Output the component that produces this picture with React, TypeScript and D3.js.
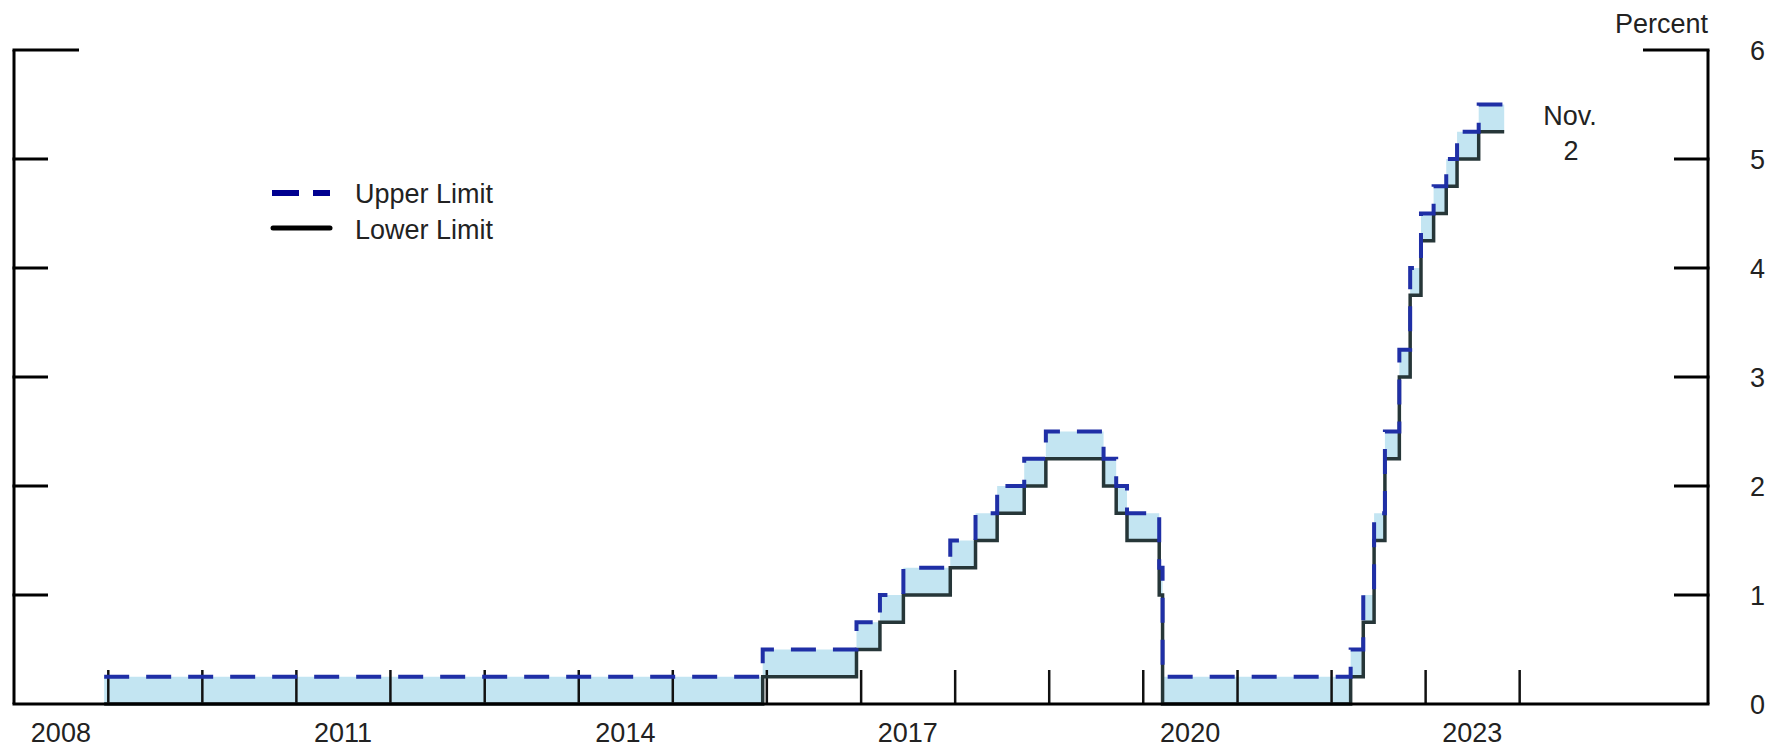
import * as d3 from 'd3';

// Federal funds target range changes (date of change, upper / lower limit in percent)
const changeDates = [
  '2008-12-16', '2015-12-16', '2016-12-14', '2017-03-15', '2017-06-14', '2017-12-13',
  '2018-03-21', '2018-06-13', '2018-09-26', '2018-12-19', '2019-07-31', '2019-09-18',
  '2019-10-30', '2020-03-03', '2020-03-16', '2022-03-16', '2022-05-04', '2022-06-15',
  '2022-07-27', '2022-09-21', '2022-11-02', '2022-12-14', '2023-02-01', '2023-03-22',
  '2023-05-03', '2023-07-26', '2023-11-02',
];
const upperLimit = [
  0.25, 0.5, 0.75, 1.0, 1.25, 1.5, 1.75, 2.0, 2.25, 2.5, 2.25, 2.0,
  1.75, 1.25, 0.25, 0.5, 1.0, 1.75, 2.5, 3.25, 4.0, 4.5, 4.75, 5.0,
  5.25, 5.5, 5.5,
];
const lowerLimit = [
  0, 0.25, 0.5, 0.75, 1.0, 1.25, 1.5, 1.75, 2.0, 2.25, 2.0, 1.75,
  1.5, 1.0, 0, 0.25, 0.75, 1.5, 2.25, 3.0, 3.75, 4.25, 4.5, 4.75,
  5.0, 5.25, 5.25,
];
const yearTicks = d3.range(2009, 2025);
const yearLabels = [2008, 2011, 2014, 2017, 2020, 2023];
const yTicks = [0, 1, 2, 3, 4, 5, 6];

const W = 1768;
const H = 749;
const FONT = '"Liberation Sans", Arial, Helvetica, sans-serif';
const TEXT = '#222';

export default function App() {
  const parse = d3.timeParse('%Y-%m-%d');
  const rows = changeDates.map((d, i) => ({ date: parse(d) as Date, hi: upperLimit[i], lo: lowerLimit[i] }));

  const x = d3.scaleTime().domain([new Date(2008, 0, 1), new Date(2026, 0, 1)]).range([14, 1708]);
  const y = d3.scaleLinear().domain([0, 6]).range([704, 50]);

  const area = d3.area<typeof rows[0]>()
    .x(d => x(d.date)).y0(d => y(d.lo)).y1(d => y(d.hi))
    .curve(d3.curveStepAfter);
  const upperLine = d3.line<typeof rows[0]>().x(d => x(d.date)).y(d => y(d.hi)).curve(d3.curveStepAfter);
  const lowerLine = d3.line<typeof rows[0]>().x(d => x(d.date)).y(d => y(d.lo)).curve(d3.curveStepAfter);

  const [x0, x1] = x.range();
  const [yb, yt] = y.range();

  return (
    <svg width={W} height={H} style={{ position: 'absolute', left: 0, top: 0, display: 'block', background: '#fff' }}
      fontFamily={FONT}>
      {/* series */}
      <path d={area(rows) ?? ''} fill="#c3e5f2" stroke="none" />

      {/* x ticks (inward, drawn over the fill) */}
      {yearTicks.map(yr => (
        <line key={yr} x1={x(new Date(yr, 0, 1))} x2={x(new Date(yr, 0, 1))} y1={yb} y2={yb - 34}
          stroke="#111" strokeWidth={2.5} />
      ))}

      <path d={lowerLine(rows) ?? ''} fill="none" stroke="#263638" strokeWidth={3.5} />
      <path d={upperLine(rows) ?? ''} fill="none" stroke="#1f2fa6" strokeWidth={4} strokeDasharray="25 17" />

      {/* frame */}
      <line x1={x0} x2={x0} y1={yt} y2={yb} stroke="#000" strokeWidth={3} />
      <line x1={x1} x2={x1} y1={yt} y2={yb} stroke="#000" strokeWidth={3} />
      <line x1={x0 - 1.5} x2={x1 + 1.5} y1={yb} y2={yb} stroke="#000" strokeWidth={3} />

      {/* y ticks, both sides */}
      {yTicks.filter(v => v > 0).map(v => {
        const len = v === 6 ? 65 : 34;
        return (
          <g key={v}>
            <line x1={x0 - 1.5} x2={x0 + len} y1={y(v)} y2={y(v)} stroke="#000" strokeWidth={3} />
            <line x1={x1 - len} x2={x1 + 1.5} y1={y(v)} y2={y(v)} stroke="#000" strokeWidth={3} />
          </g>
        );
      })}

      {/* y labels on the right */}
      {yTicks.map(v => (
        <text key={v} x={x1 + 42} y={y(v)} dy="0.36em" fontSize={27} fill={TEXT}>{v}</text>
      ))}
      <text x={x1} y={33} textAnchor="end" fontSize={27} fill={TEXT}>Percent</text>

      {/* x labels */}
      {yearLabels.map(yr => (
        <text key={yr} x={x(new Date(yr, 6, 1))} y={742} textAnchor="middle" fontSize={27} fill={TEXT}>{yr}</text>
      ))}

      {/* annotation */}
      <text x={1570} y={125} textAnchor="middle" fontSize={27} fill={TEXT}>Nov.</text>
      <text x={1571} y={160} textAnchor="middle" fontSize={27} fill={TEXT}>2</text>

      {/* legend */}
      <line x1={272} x2={330} y1={193} y2={193} stroke="#000090" strokeWidth={6} strokeDasharray="27 14" />
      <text x={355} y={203} fontSize={27} fill={TEXT}>Upper Limit</text>
      <line x1={273} x2={330} y1={228} y2={228} stroke="#000" strokeWidth={5} strokeLinecap="round" />
      <text x={355} y={239} fontSize={27} fill={TEXT}>Lower Limit</text>
    </svg>
  );
}
